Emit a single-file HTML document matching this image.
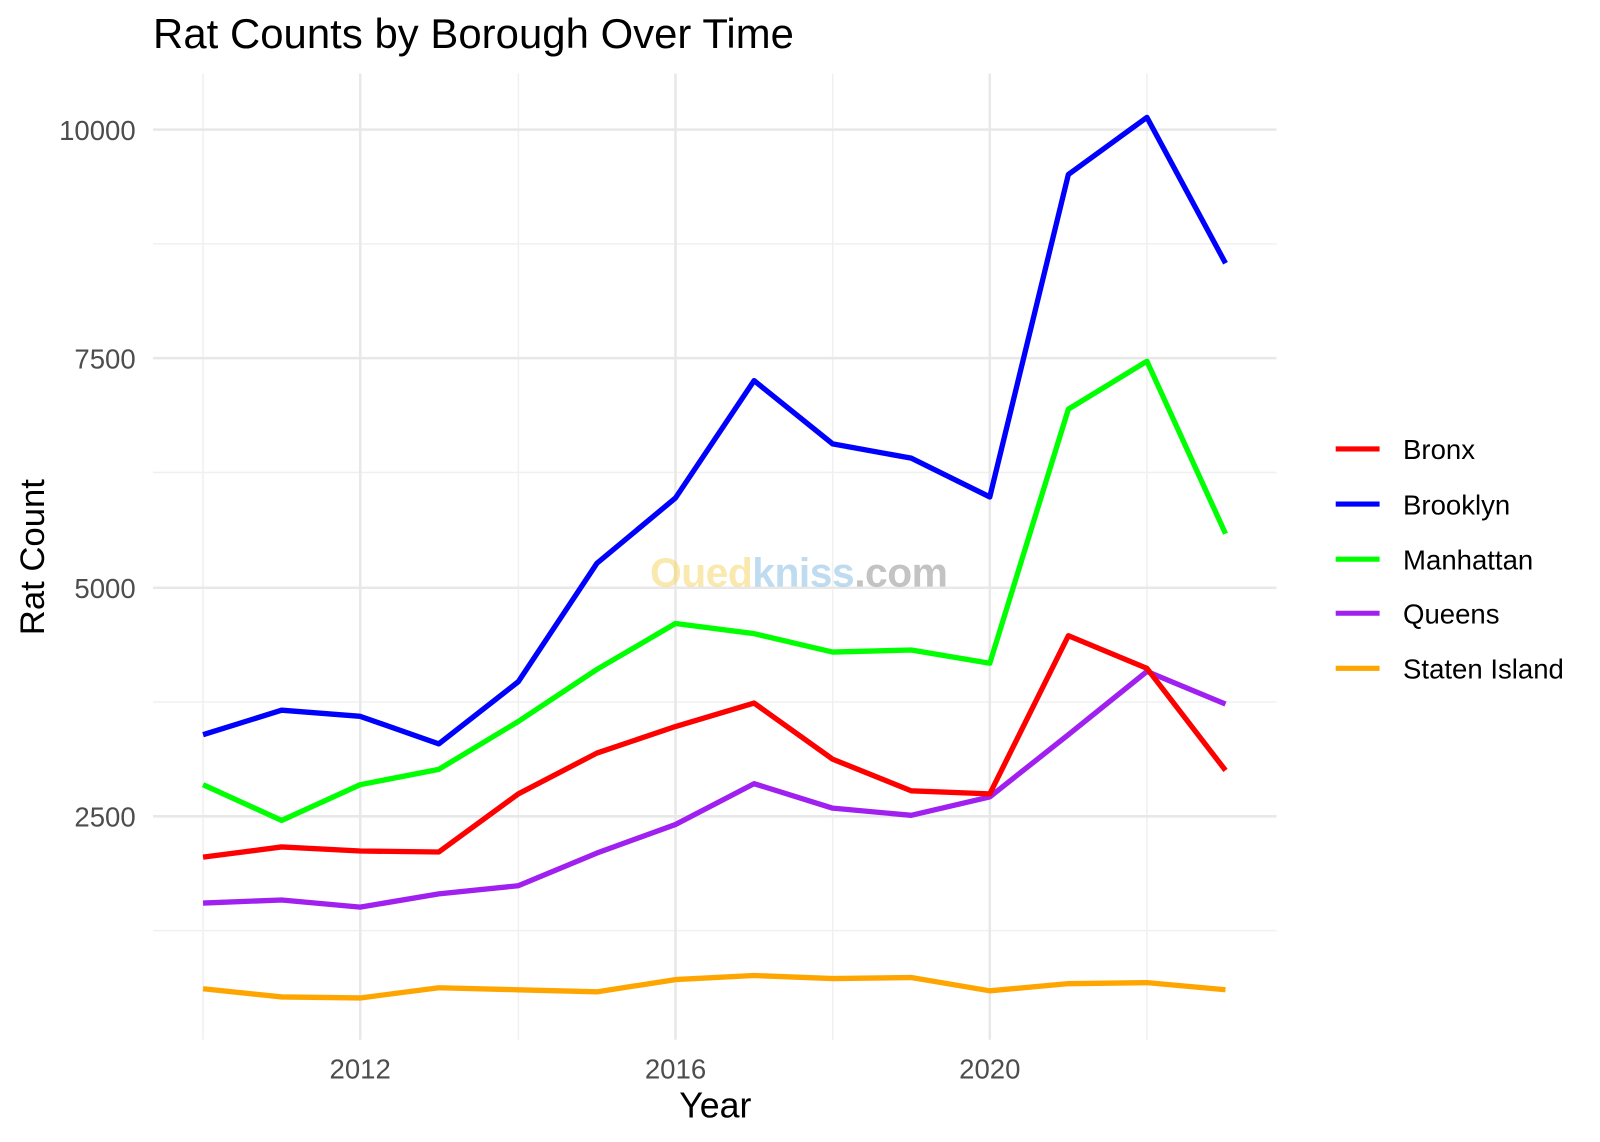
<!DOCTYPE html>
<html><head><meta charset="utf-8"><style>
html,body{margin:0;padding:0;background:#fff;}
svg{display:block;font-family:"Liberation Sans",Arial,sans-serif;}
</style></head><body>
<svg width="1600" height="1142" viewBox="0 0 1600 1142" xmlns="http://www.w3.org/2000/svg">
<rect width="1600" height="1142" fill="#fff"/>
<g transform="scale(1.0204)">
<g stroke="#f0f0f0" stroke-width="1.5">
<line x1="150" x2="1251" y1="912" y2="912"/>
<line x1="150" x2="1251" y1="688" y2="688"/>
<line x1="150" x2="1251" y1="463" y2="463"/>
<line x1="150" x2="1251" y1="239" y2="239"/>
<line x1="199" x2="199" y1="72" y2="1019"/>
<line x1="508" x2="508" y1="72" y2="1019"/>
<line x1="816" x2="816" y1="72" y2="1019"/>
<line x1="1124" x2="1124" y1="72" y2="1019"/>
</g>
<g stroke="#e8e8e8" stroke-width="2.5">
<line x1="150" x2="1251" y1="127" y2="127"/>
<line x1="150" x2="1251" y1="351" y2="351"/>
<line x1="150" x2="1251" y1="576" y2="576"/>
<line x1="150" x2="1251" y1="800" y2="800"/>
<line x1="353" x2="353" y1="72" y2="1019"/>
<line x1="662" x2="662" y1="72" y2="1019"/>
<line x1="970" x2="970" y1="72" y2="1019"/>
</g>
<text x="637" y="575" font-size="40" font-weight="bold" fill-opacity="0.5" textLength="292"><tspan fill="#f4d35e">Oued</tspan><tspan fill="#7fb8e0">kniss</tspan><tspan fill="#888">.com</tspan></text>
<g fill="none" stroke-width="5.2" stroke-linejoin="round">
<polyline stroke="#ffa500" points="199,969 276,977 353,978 430,968 508,970 585,972 662,960 739,956 816,959 893,958 970,971 1047,964 1124,963 1201,970"/>
<polyline stroke="#a020f0" points="199,885 276,882 353,889 430,876 508,868 585,836 662,808 739,768 816,792 893,799 970,781 1047,720 1124,658 1201,690"/>
<polyline stroke="#ff0000" points="199,840 276,830 353,834 430,835 508,778 585,738 662,712 739,689 816,744 893,775 970,778 1047,623 1124,655 1201,755"/>
<polyline stroke="#00ff00" points="199,769 276,804 353,769 430,754 508,707 585,656 662,611 739,621 816,639 893,637 970,650 1047,401 1124,354 1201,523"/>
<polyline stroke="#0000ff" points="199,720 276,696 353,702 430,729 508,668 585,552 662,488 739,373 816,435 893,449 970,487 1047,171 1124,115 1201,258"/>
</g>
<g font-size="27" fill="#4d4d4d" text-anchor="end">
<text x="133" y="137">10000</text>
<text x="133" y="361">7500</text>
<text x="133" y="586">5000</text>
<text x="133" y="810">2500</text>
</g>
<g font-size="27" fill="#4d4d4d" text-anchor="middle">
<text x="353" y="1057">2012</text>
<text x="662" y="1057">2016</text>
<text x="970" y="1057">2020</text>
</g>
<text x="701" y="1095" font-size="35" text-anchor="middle" fill="#000">Year</text>
<text transform="translate(43,546) rotate(-90)" font-size="34" text-anchor="middle" fill="#000">Rat Count</text>
<text x="150" y="47" font-size="41" fill="#000" textLength="628">Rat Counts by Borough Over Time</text>
<g stroke-width="5">
<line x1="1309" x2="1352" y1="440" y2="440" stroke="#ff0000"/>
<line x1="1309" x2="1352" y1="494" y2="494" stroke="#0000ff"/>
<line x1="1309" x2="1352" y1="548" y2="548" stroke="#00ff00"/>
<line x1="1309" x2="1352" y1="601" y2="601" stroke="#a020f0"/>
<line x1="1309" x2="1352" y1="655" y2="655" stroke="#ffa500"/>
</g>
<g font-size="27" fill="#000">
<text x="1375" y="450">Bronx</text>
<text x="1375" y="504">Brooklyn</text>
<text x="1375" y="558">Manhattan</text>
<text x="1375" y="611">Queens</text>
<text x="1375" y="665">Staten Island</text>
</g>
</g>
</svg>
</body></html>
